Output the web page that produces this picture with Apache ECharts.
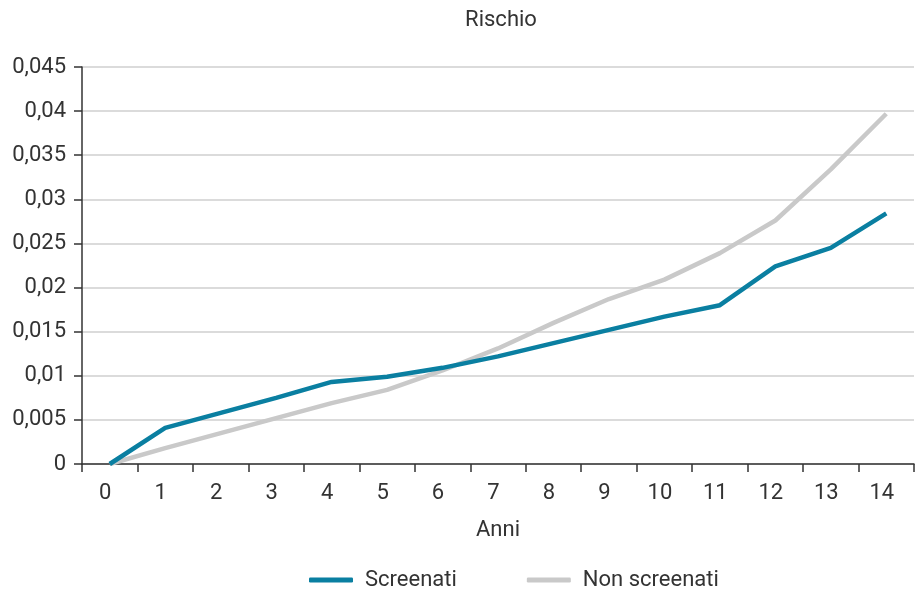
<!DOCTYPE html>
<html>
<head>
<meta charset="utf-8">
<script src="https://cdn.jsdelivr.net/npm/echarts@6/dist/echarts.min.js"></script>
<style>
  html, body { margin: 0; padding: 0; background: #fff; }
  #chart { width: 920px; height: 596px; }
</style>
</head>
<body>
<div id="chart"></div>
<script>
const anni = ['0', '1', '2', '3', '4', '5', '6', '7', '8', '9', '10', '11', '12', '13', '14'];
const screenati = [0, 0.0041, 0.0058, 0.0075, 0.0093, 0.0099, 0.0109, 0.0122, 0.0137, 0.0152, 0.0167, 0.0180, 0.0224, 0.0245, 0.0284];
const nonScreenati = [0, 0.0018, 0.0035, 0.0052, 0.0069, 0.0084, 0.0106, 0.0131, 0.0160, 0.0187, 0.0209, 0.0239, 0.0276, 0.0334, 0.0397];

const chart = echarts.init(document.getElementById('chart'));
const font = 'Roboto, "Noto Sans", sans-serif';

const option = {
  animation: false,
  textStyle: { fontFamily: font },
  title: {
    text: 'Rischio',
    left: 496,
    top: 4,
    textAlign: 'center',
    textStyle: { fontSize: 22, fontWeight: 'normal', color: '#333', fontFamily: font }
  },
  grid: { left: 82, right: 6, top: 67, bottom: 132 },
  legend: {
    left: 304,
    bottom: 0,
    itemGap: 70,
    itemWidth: 44,
    itemHeight: 5,
    textStyle: { fontSize: 22, color: '#333', fontFamily: font, padding: [0, 0, 0, 7] },
    data: [
      { name: 'Screenati', icon: 'roundRect' },
      { name: 'Non screenati', icon: 'roundRect' }
    ]
  },
  xAxis: {
    type: 'category',
    data: anni,
    boundaryGap: true,
    name: 'Anni',
    nameLocation: 'middle',
    nameGap: 55,
    nameTextStyle: { fontSize: 22, color: '#333' },
    axisLine: { lineStyle: { color: '#333', width: 1.5 } },
    axisTick: { show: true, length: 8, lineStyle: { color: '#333', width: 1.5 } },
    axisLabel: { fontSize: 22, color: '#333', margin: 18, padding: [0, 9, 0, 0] },
    splitLine: { show: false }
  },
  yAxis: {
    type: 'value',
    min: 0,
    max: 0.045,
    interval: 0.005,
    axisLine: { show: true, lineStyle: { color: '#333', width: 1.5 } },
    axisTick: { show: true, length: 8, lineStyle: { color: '#333', width: 1.5 } },
    axisLabel: {
      fontSize: 22,
      color: '#333',
      margin: 16,
      formatter: v => String(+v.toFixed(3)).replace('.', ',')
    },
    splitLine: { lineStyle: { color: '#cfcfcf', width: 1.5 } }
  },
  series: [
    {
      name: 'Screenati',
      type: 'line',
      data: screenati,
      symbol: 'none',
      lineStyle: { color: '#0a7fa1', width: 4.5 },
      itemStyle: { color: '#0a7fa1' },
      z: 3
    },
    {
      name: 'Non screenati',
      type: 'line',
      data: nonScreenati,
      symbol: 'none',
      lineStyle: { color: '#c9c9c9', width: 4.5 },
      itemStyle: { color: '#c9c9c9' },
      z: 2
    }
  ]
};

chart.setOption(option);
</script>
</body>
</html>
